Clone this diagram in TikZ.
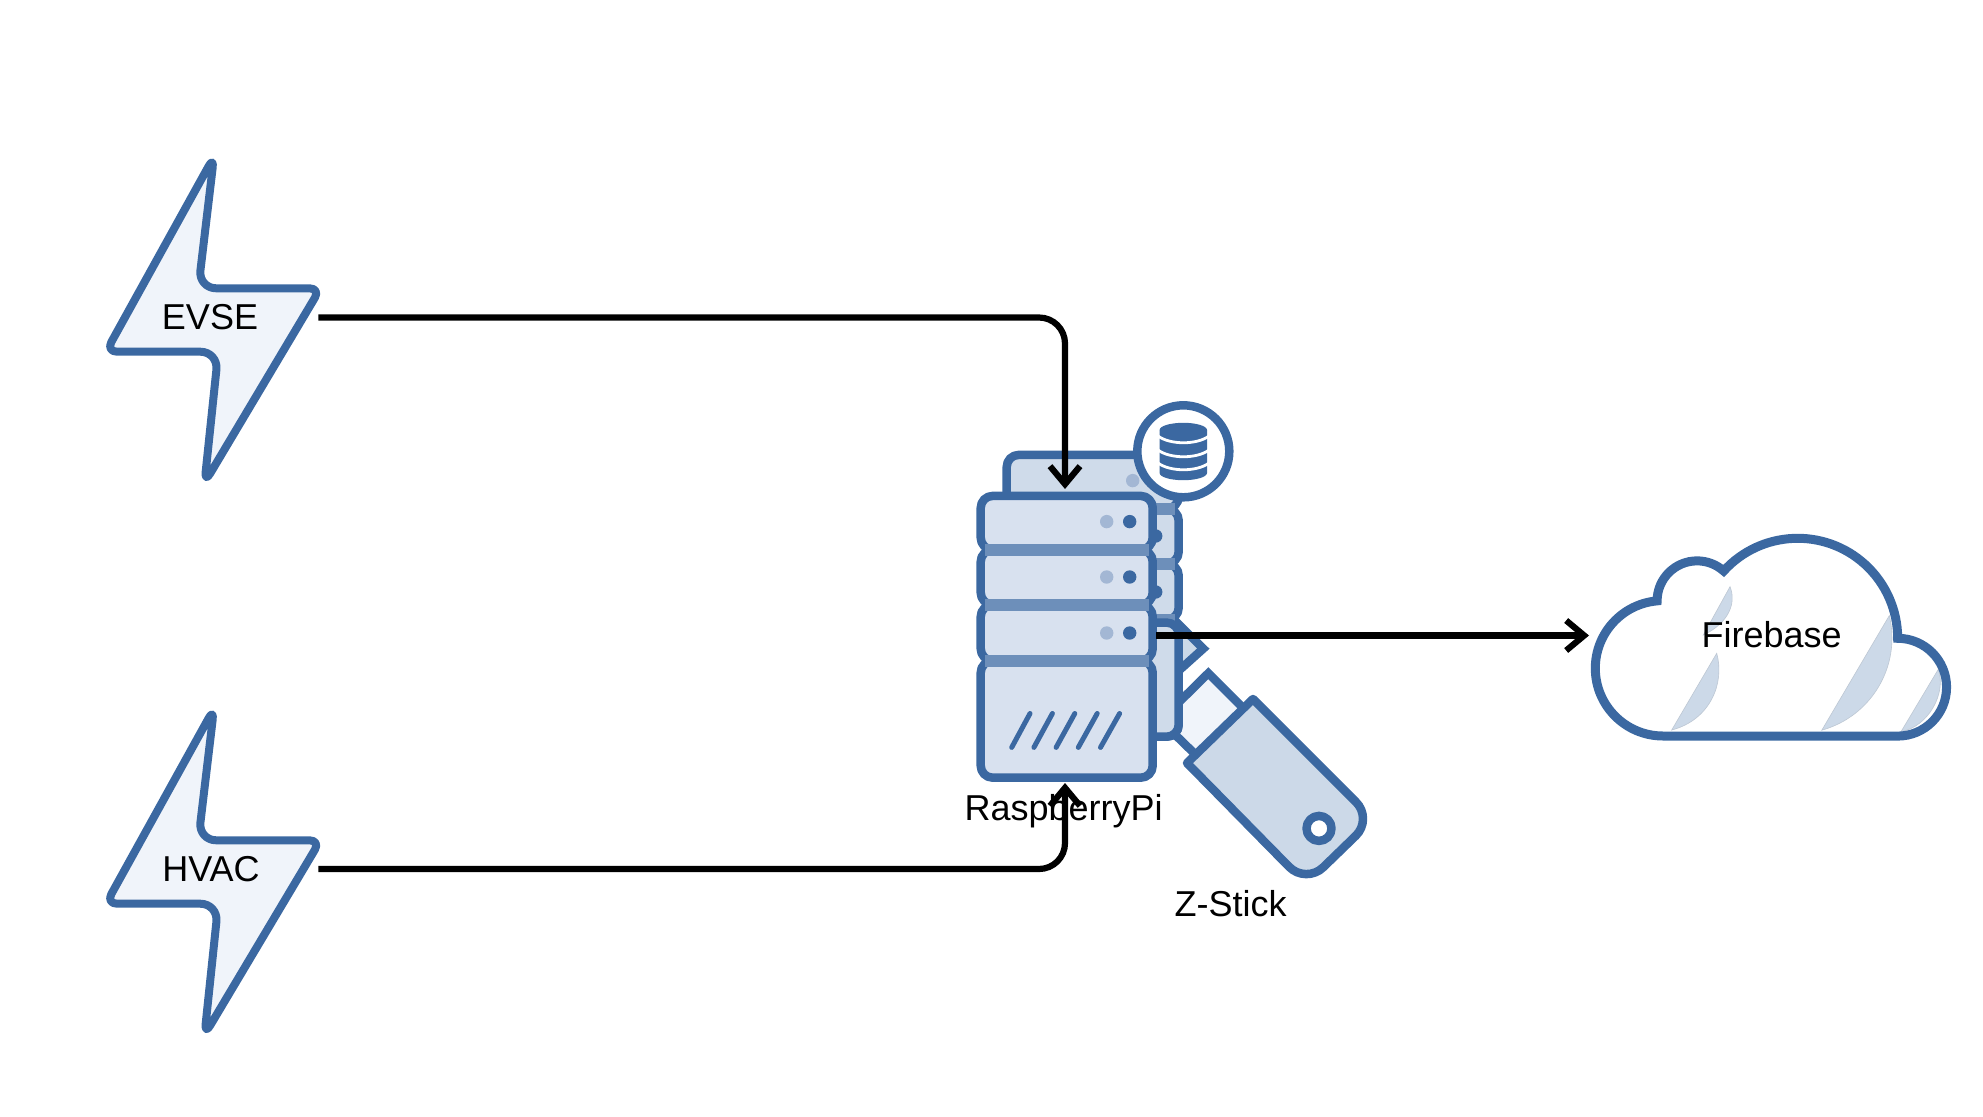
\documentclass[tikz,border=0pt]{standalone}
\usepackage{fontspec}
\setmainfont{Liberation Sans}
\usetikzlibrary{arrows.meta}
\definecolor{ink}{HTML}{3B68A1}
\definecolor{front}{HTML}{D8E1EF}
\definecolor{backc}{HTML}{CFDBEA}
\definecolor{band}{HTML}{6D8FBA}
\definecolor{pale}{HTML}{F0F4FA}
\definecolor{shade}{HTML}{CCD9E8}
\definecolor{dotl}{HTML}{A3B7D4}
\tikzset{
  outl/.style={draw=ink,line width=8.5pt,line join=round},
  unitbox/.style={outl,rounded corners=12pt},
  boltshape/.style={draw=ink,fill=pale,line width=8pt,line join=round,rounded corners=11pt},
  label/.style={font=\fontsize{36}{40}\selectfont,inner sep=0pt,text=black},
  link/.style={draw=black,line width=6.2pt,rounded corners=26pt,-{Straight Barb[length=18pt,width=30pt,line width=6.2pt]}},
  crescent/.style={fill=shade,draw=shade!80!gray,line width=0.6pt},
}
\newcommand{\boltpath}{(160,254.1) -- (214,156.5) [rounded corners=18pt] -- (198.3,288.3) [rounded corners=11pt] -- (320.5,288.3) -- (204.5,483) [rounded corners=18pt] -- (218.3,351.7) [rounded corners=11pt] -- (106,351.7) -- cycle}
\newcommand{\cloudpath}{(1663,736) arc[start angle=90,end angle=265,radius=67.7]
  arc[start angle=180,end angle=311.7,radius=40]
  arc[start angle=222.3,end angle=360,radius=100]
  arc[start angle=270,end angle=450,radius=48.9] -- cycle}
\newcommand{\stack}[1]{%
  \path[unitbox,fill=#1] (980.7,495.9) rectangle (1152.7,549.7);
  \path[unitbox,fill=#1] (980.7,549.7) rectangle (1152.7,604.7);
  \path[unitbox,fill=#1] (980.7,604.7) rectangle (1152.7,660.7);
  \path[unitbox,fill=#1] (980.7,660.7) rectangle (1152.7,777.7);
  \fill[band] (985,544) rectangle (1148.5,555.5);
  \fill[band] (985,599) rectangle (1148.5,610.5);
  \fill[band] (985,655) rectangle (1148.5,666.5);
  \foreach \yy in {521.6,577,633}{
    \fill[dotl] (1106.7,\yy) circle (6.7);
    \fill[ink] (1129.7,\yy) circle (6.7);
  }
  \foreach \i in {0,...,4}{
    \draw[ink,line width=5pt,line cap=round] (1011.7+22.2*\i,747.4) -- (1030+22.4*\i,713.5);
  }
}
\begin{document}
\begin{tikzpicture}[x=1pt,y=1pt,yscale=-1]
\useasboundingbox (0,0) rectangle (1983,1116);

% lightning bolts
\path[boltshape] \boltpath;
\begin{scope}[shift={(0,552)}]
  \path[boltshape] \boltpath;
\end{scope}
\node[label] (evse) at (210,317) {EVSE};
\node[label] (hvac) at (211,869) {HVAC};

% stick behind the server
\path[outl,fill=shade,line join=miter] (1160,606) -- (1203.3,648.6) -- (1165,683) -- cycle;
\path[outl,fill=pale,line join=miter] (1208.3,673.2) -- (1245,710) -- (1198,757) -- (1160,720) -- (1170,711) -- cycle;

% back and front server stacks
\begin{scope}[shift={(26,-41)}]
  \stack{backc}
\end{scope}
\path[unitbox,fill=backc] (1006.7,622.6) rectangle (1178.7,736.7);
\stack{front}

% database badge
\path[outl,fill=white] (1183.3,451.3) circle (46);
\fill[ink] (1159.6,430) arc[start angle=180,end angle=360,x radius=23.7,y radius=7.2] -- cycle;
\fill[ink] (1159.6,430) -- (1159.6,473) arc[start angle=180,end angle=0,x radius=23.7,y radius=7.2]
  -- (1207,430) -- cycle;
\foreach \yy in {436,450,463}{
  \draw[white,line width=2.8pt] (1158,\yy) .. controls (1170,\yy+9) and (1197,\yy+9) .. (1209,\yy);
}

% stick body
\path[outl,fill=shade,rounded corners=0pt] (1253,699) -- (1314,760) [rounded corners=24pt] -- (1373,819) -- (1306,884) [rounded corners=0pt] -- (1187,763) -- cycle;
\path[outl,fill=white] (1319,828.4) circle (12.5);

% cloud
\path[fill=white] \cloudpath;
\path[crescent] (1730,586.7) .. controls (1736.7,603.3) and (1728.3,623.3) .. (1703.3,635) -- cycle;
\path[crescent] (1716.7,653.3) .. controls (1725,683.3) and (1710,720) .. (1671.7,730) -- cycle;
\path[crescent] (1889.3,615.6) arc[start angle=-13.5,end angle=74.5,radius=95.7] -- cycle;
\path[crescent] (1938.3,669.3) .. controls (1946.7,693.3) and (1928.3,726.7) .. (1901,731.7) -- cycle;
\path[draw=ink,line width=9pt,line join=miter] \cloudpath;

% labels
\node[label] (pi) at (1063.6,811) {RaspberryPi};
\node[label] (zstick) at (1230.5,904) {Z-Stick};
\node[label] (firebase) at (1771.7,635) {Firebase};

% connectors
\coordinate (evseout) at (318.3,317.5);
\coordinate (hvacout) at (318.3,869);
\coordinate (pitop) at (1065,489);
\coordinate (pibot) at (1065,783);
\coordinate (piout) at (1156,635.5);
\coordinate (cloudin) at (1589,635.5);
\draw[link] (evseout) -| (pitop);
\draw[link] (hvacout) -| (pibot);
\draw[link] (piout) -- (cloudin);
\end{tikzpicture}
\end{document}
